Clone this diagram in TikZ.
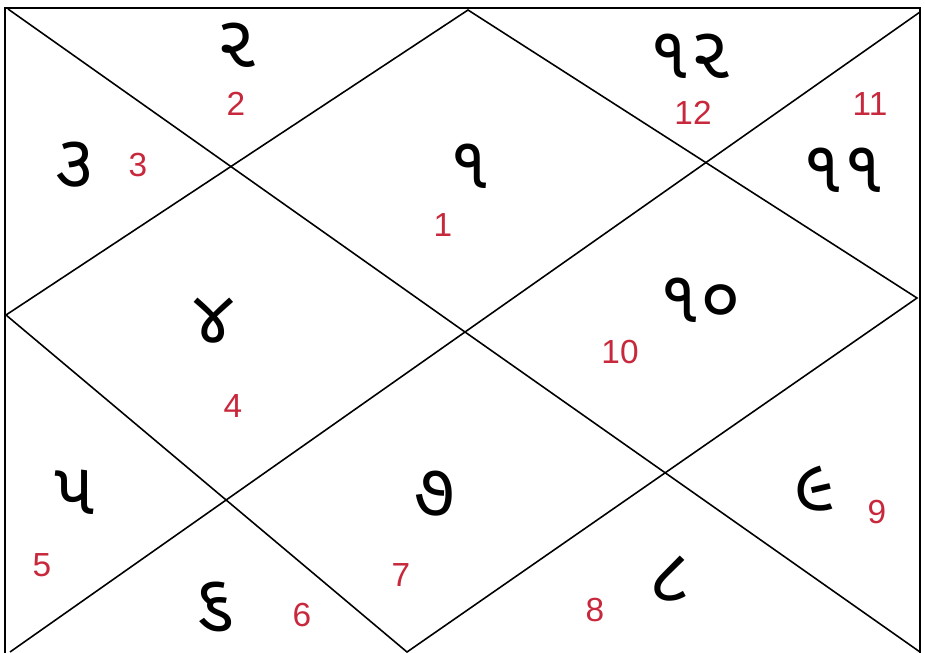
\documentclass[tikz,border=0pt]{standalone}
\usepackage{fontspec}
\setmainfont{Liberation Sans}
\newfontfamily\gujfont[Script=Gujarati]{Noto Sans Gujarati UI}
\usetikzlibrary{positioning}
\definecolor{housered}{RGB}{200,40,60}

\begin{document}
\begin{tikzpicture}[
	x=0.02cm, y=-0.02cm,
	frame/.style={draw=black, line width=1.2pt},
	rule/.style={draw=black, line width=0.9pt},
	sign/.style={font=\gujfont\fontsize{42}{42}\selectfont, text=black, inner sep=0pt, text depth=0pt, anchor=base},
	house/.style={font=\fontsize{19}{19}\selectfont, text=housered, inner sep=0pt, text height=13pt, text depth=0pt}
]
\useasboundingbox[fill=white] (0,0) rectangle (925,652);

% Corners and crossings
\coordinate (F1) at (5,8);
\coordinate (F2) at (920,662);
\coordinate (TL) at (8,9);
\coordinate (TR) at (920,12);
\coordinate (BR) at (920,652);
\coordinate (BL) at (10,652);
\coordinate (C) at (465,332);
\coordinate (T) at (468,10);
\coordinate (R) at (917,298);
\coordinate (B) at (407,652);
\coordinate (L) at (6,315);

% Chart lines
\draw[frame] (F1) rectangle (F2);
\draw[rule] (TL) -- (C) -- (BR);
\draw[rule] (TR) -- (C) -- (BL);
\draw[rule] (T) -- (R) -- (B) -- (L) -- cycle;

% Signs (placed on their baselines)
\node[sign] (s2) at (237,68) {૨};
\node[sign] (s12) at (690,78) {૧૨};
\node[sign] (s3) at (75,186) {૩};
\node[sign] (s1) at (470,188) {૧};
\node[sign] (s11) at (843,192) {૧૧};
\node[sign] (s4) at (214,342) {૪};
\node[sign] (s10) at (700,322) {૧૦};
\node[sign] (s5) at (75,514) {૫};
\node[sign] (s7) at (435,515) {૭};
\node[sign] (s9) at (815,510) {૯};
\node[sign] (s6) at (215,626) {૬};
\node[sign] (s8) at (670,600) {૮};

% House numbers
\node[house] (h2) at (236,104) {2};
\node[house] (h12) at (693,113) {12};
\node[house] (h11) at (870,104) {11};
\node[house] (h3) at (138,165) {3};
\node[house] (h1) at (443,225) {1};
\node[house] (h10) at (620,352) {10};
\node[house] (h4) at (233,406) {4};
\node[house] (h5) at (42,565) {5};
\node[house] (h7) at (401,575) {7};
\node[house] (h6) at (302,615) {6};
\node[house] (h8) at (595,610) {8};
\node[house] (h9) at (877,512) {9};

\end{tikzpicture}
\end{document}
